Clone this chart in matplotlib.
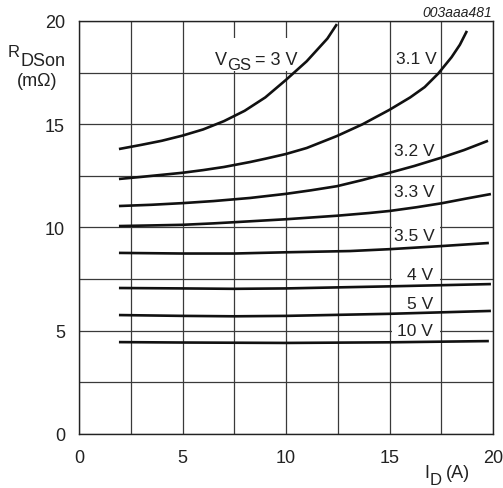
import matplotlib
matplotlib.use("Agg")
import matplotlib.pyplot as plt
from matplotlib.patches import Rectangle

plt.rcParams['font.family'] = ['Liberation Sans', 'DejaVu Sans']

# ---- data (I_D in A, R_DSon in mOhm) ----
x_3v = [1.93, 3, 4, 5, 6, 7, 8, 9, 10, 11, 12, 12.46]
y_3v = [13.8, 14.0, 14.2, 14.45, 14.75, 15.15, 15.65, 16.3, 17.15, 18.05, 19.15, 19.85]

x_31v = [1.93, 3, 4, 5, 6, 7, 8.26, 9, 10, 11, 12.46, 13.7, 15, 16, 16.7, 17.35, 18, 18.4, 18.74]
y_31v = [12.35, 12.45, 12.55, 12.65, 12.78, 12.93, 13.17, 13.33, 13.56, 13.85, 14.43, 15.0, 15.7, 16.3, 16.8, 17.45, 18.25, 18.85, 19.52]

x_32v = [1.93, 3.5, 5, 6.5, 8.26, 10, 11.2, 12.46, 13.7, 15, 16.2, 17.5, 18.6, 19.76]
y_32v = [11.04, 11.1, 11.18, 11.28, 11.43, 11.63, 11.8, 12.0, 12.3, 12.65, 12.98, 13.38, 13.75, 14.2]

x_33v = [1.93, 3.5, 5, 6.5, 8.26, 10, 12.46, 14, 15, 16.3, 17.5, 18.7, 19.9]
y_33v = [10.07, 10.1, 10.13, 10.2, 10.3, 10.4, 10.57, 10.7, 10.8, 10.98, 11.17, 11.4, 11.62]

x_35v = [1.93, 5, 7.5, 10, 13.1, 15, 17.5, 19.8]
y_35v = [8.77, 8.74, 8.74, 8.8, 8.86, 8.95, 9.1, 9.25]

x_4v = [1.93, 5, 7.5, 10, 15, 19.9]
y_4v = [7.07, 7.05, 7.03, 7.05, 7.15, 7.26]

x_5v = [1.93, 5, 7.5, 10, 15, 19.9]
y_5v = [5.76, 5.72, 5.7, 5.72, 5.82, 5.96]

x_10v = [1.93, 5, 10, 15, 19.8]
y_10v = [4.45, 4.43, 4.41, 4.44, 4.5]

curves = [(x_3v, y_3v), (x_31v, y_31v), (x_32v, y_32v), (x_33v, y_33v),
          (x_35v, y_35v), (x_4v, y_4v), (x_5v, y_5v), (x_10v, y_10v)]

x_ticks = [0, 5, 10, 15, 20]
y_ticks = [0, 5, 10, 15, 20]
grid_ticks = [2.5, 7.5, 12.5, 17.5]

labels = ["3.1 V", "3.2 V", "3.3 V", "3.5 V", "4 V", "5 V", "10 V"]
label_x = [17.3, 17.2, 17.2, 17.2, 17.1, 17.1, 17.1]
label_y = [18.16, 13.75, 11.72, 9.59, 7.7, 6.34, 4.99]

# ---- figure ----
W, H = 503, 489
fig = plt.figure(figsize=(W / 100, H / 100), dpi=100)
ax = fig.add_axes([79 / W, 1 - 435 / H, (493 - 79) / W, (435 - 22) / H])
ax.set_xlim(0, 20)
ax.set_ylim(0, 20)
ax.set_xticks(x_ticks)
ax.set_yticks(y_ticks)
ax.set_xticks(grid_ticks, minor=True)
ax.set_yticks(grid_ticks, minor=True)
ax.tick_params(which='both', length=0)
ax.tick_params(axis='y', pad=10, labelsize=13, labelcolor='#222222')
ax.tick_params(axis='x', pad=11, labelsize=13, labelcolor='#222222')
ax.grid(True, which='both', color='#3a3a3a', linewidth=0.9, zorder=0)
ax.set_axisbelow(True)
for s in ax.spines.values():
    s.set_linewidth(1.0)
    s.set_color('#222222')

# white label boxes covering grid lines
boxes = [(5.85, 17.6, 5.05, 1.6), (15.12, 9.3, 2.3, 0.8),
         (15.12, 7.3, 2.3, 0.8), (15.12, 4.6, 2.3, 0.8)]
for bx, by, bw, bh in boxes:
    ax.add_patch(Rectangle((bx, by), bw, bh, facecolor='white', edgecolor='none', zorder=1))

for xs, ys in curves:
    ax.plot(xs, ys, color='#111111', linewidth=1.9, solid_capstyle='butt', zorder=3)

for t, lx, ly in zip(labels, label_x, label_y):
    ax.text(lx, ly, t, fontsize=12.5, ha='right', va='center', zorder=4, color='#222222')

renderer = fig.canvas.get_renderer()


def chain(x_px, base_px, parts):
    """parts: list of (text, fontsize, baseline_offset_px_down, gap_px_before)"""
    x = x_px
    for text, size, dy, gap in parts:
        x += gap
        t = fig.text(x / W, 1 - (base_px + dy) / H, text, fontsize=size,
                     ha='left', va='baseline', color='#222222', zorder=5)
        bb = t.get_window_extent(renderer)
        x = bb.x1


chain(215, 65, [("V", 13, 0, 0), ("GS", 12, 5, 0), ("= 3 V", 13, 0, 4)])
chain(8, 57, [("R", 12, 0, 0), ("DSon", 13, 9, 0)])
fig.text(37 / W, 1 - 82 / H, "(mΩ)", fontsize=13, ha='center', va='center', color='#222222')
chain(424, 478, [("I", 13, 0, 0), ("D", 12, 7, 1), ("(A)", 13, 0, 4)])
fig.text(492 / W, 1 - 13 / H, "003aaa481", fontsize=10, style='italic', ha='right',
         va='center', color='#222222')

fig.savefig("out.png", dpi=100)
